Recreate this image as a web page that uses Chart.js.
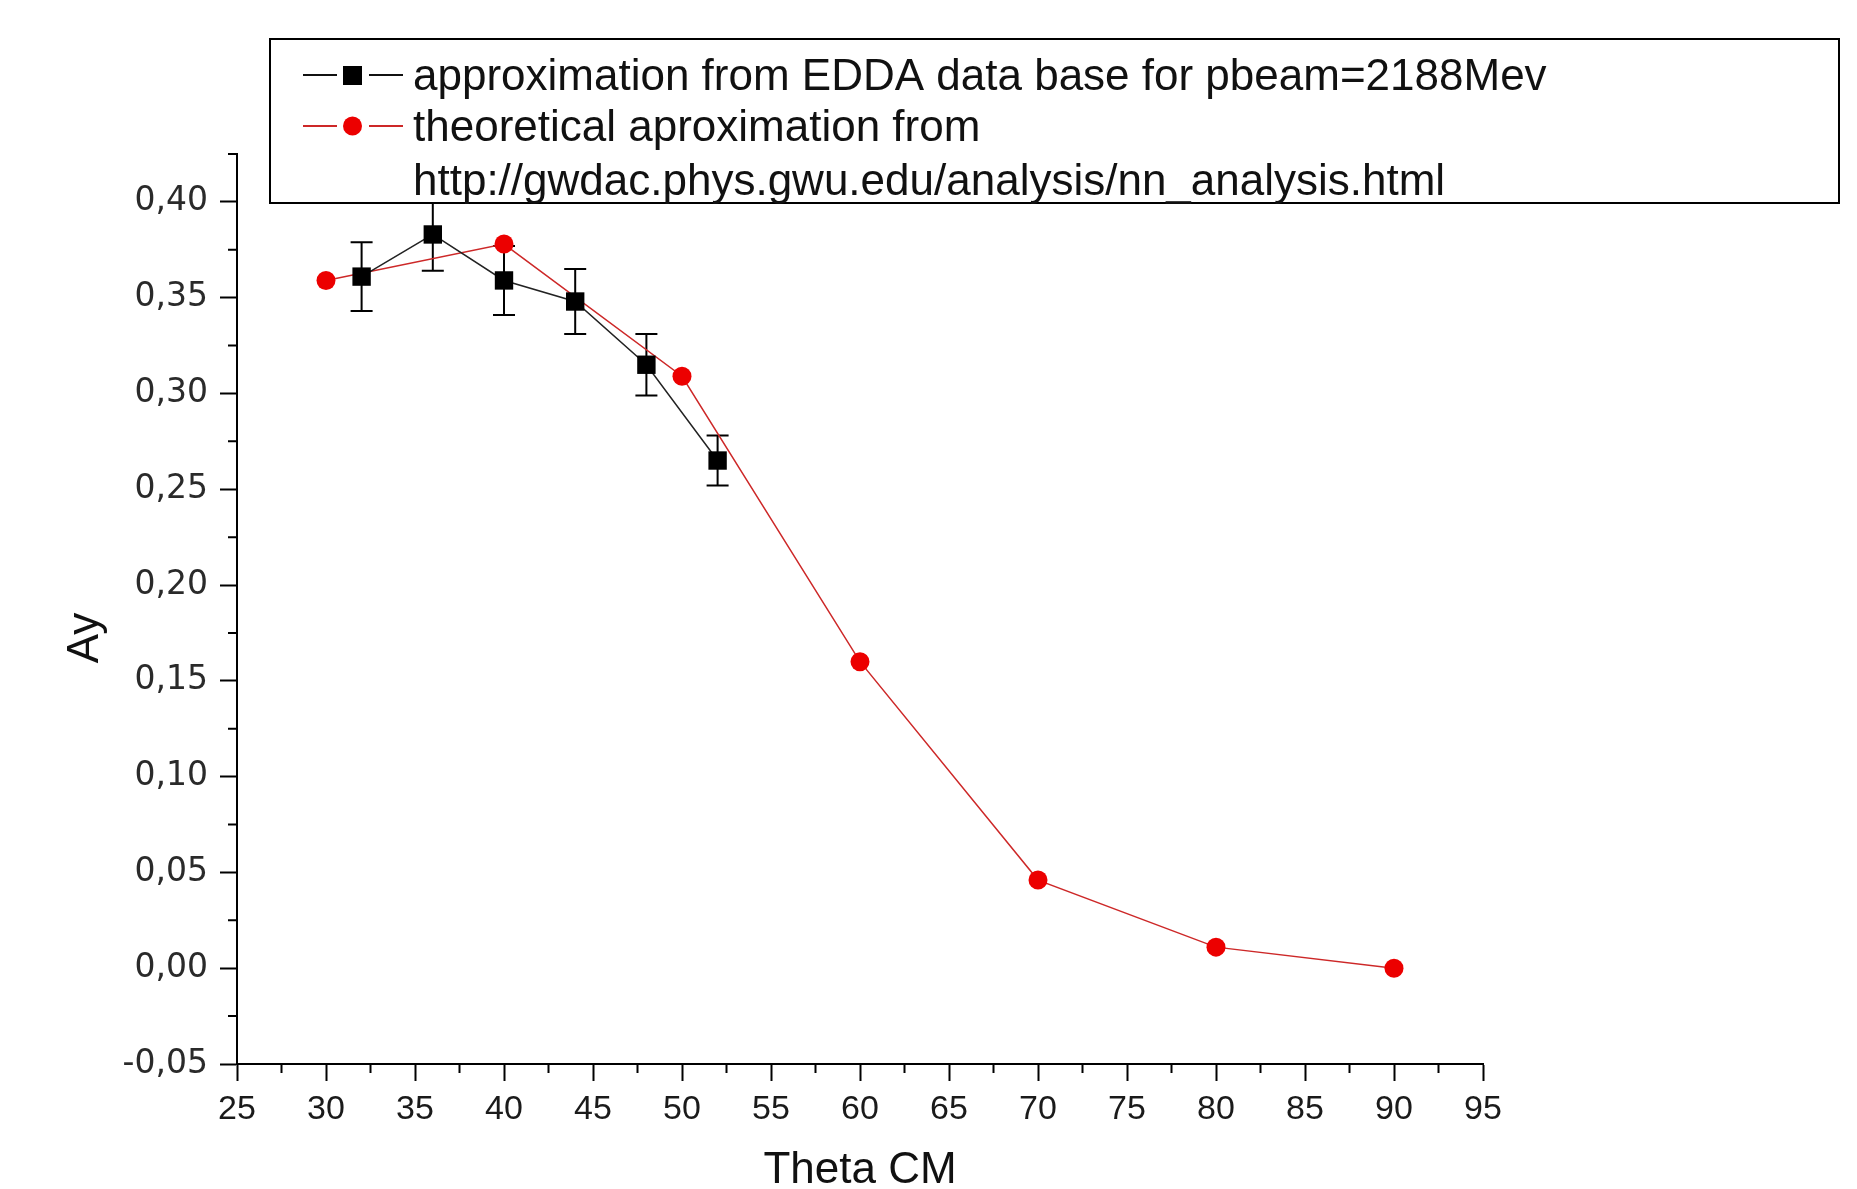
<!DOCTYPE html>
<html>
<head>
<meta charset="utf-8">
<title>Ay vs Theta CM</title>
<script src="https://cdn.jsdelivr.net/npm/chart.js@4/dist/chart.umd.min.js"></script>
<style>
    body { margin: 0; background: #fff; }
    #wrap { width: 1857px; height: 1189px; }
</style>
</head>
<body>
<div id="wrap"><canvas id="myChart" width="1857" height="1189"></canvas></div>
<script>
// EDDA data points (with errors)
const eddaTheta = [32, 36, 40, 44, 48, 52];
const eddaAy = [0.361, 0.383, 0.359, 0.348, 0.315, 0.265];
const eddaErr = [0.018, 0.019, 0.018, 0.017, 0.016, 0.013];

// theoretical curve (SAID)
const theoTheta = [30, 40, 50, 60, 70, 80, 90];
const theoAy = [0.359, 0.378, 0.309, 0.160, 0.046, 0.011, 0.000];

const xTicks = [25, 30, 35, 40, 45, 50, 55, 60, 65, 70, 75, 80, 85, 90, 95];
const yTicks = [-0.05, 0, 0.05, 0.10, 0.15, 0.20, 0.25, 0.30, 0.35, 0.40];
const xMinor = [27.5, 32.5, 37.5, 42.5, 47.5, 52.5, 57.5, 62.5, 67.5, 72.5, 77.5, 82.5, 87.5, 92.5];
const yMinor = [-0.025, 0.025, 0.075, 0.125, 0.175, 0.225, 0.275, 0.325, 0.375, 0.425];

const legendLabels = [
    'approximation from EDDA data base for pbeam=2188Mev',
    'theoretical aproximation from',
    'http://gwdac.phys.gwu.edu/analysis/nn_analysis.html'
];
const xTitle = 'Theta CM';
const yTitle = 'Ay';

const FONT = "'Liberation Sans', Arial, sans-serif";
const WIDE_FONT = "'DejaVu Sans', Verdana, sans-serif";
const RED = 'rgb(236,0,0)';
const RED_LINE = 'rgb(205,40,40)';

const toPoints = (xs, ys) => xs.map((x, i) => ({ x: x, y: ys[i] }));

const extras = {
    id: 'extras',
    beforeDatasetsDraw: (chart) => {
        const ctx = chart.ctx;
        const xs = chart.scales.x;
        const ys = chart.scales.y;
        ctx.save();
        ctx.strokeStyle = '#000';
        ctx.lineWidth = 2;
        eddaTheta.forEach((t, i) => {
            const px = xs.getPixelForValue(t);
            const top = ys.getPixelForValue(eddaAy[i] + eddaErr[i]);
            const bot = ys.getPixelForValue(eddaAy[i] - eddaErr[i]);
            ctx.beginPath();
            ctx.moveTo(px, top);
            ctx.lineTo(px, bot);
            ctx.moveTo(px - 11, top);
            ctx.lineTo(px + 11, top);
            ctx.moveTo(px - 11, bot);
            ctx.lineTo(px + 11, bot);
            ctx.stroke();
        });
        ctx.restore();
    },
    afterDraw: (chart) => {
        const ctx = chart.ctx;
        const xs = chart.scales.x;
        const ys = chart.scales.y;
        const area = chart.chartArea;
        ctx.save();

        // minor ticks
        ctx.strokeStyle = '#000';
        ctx.lineWidth = 2;
        ctx.beginPath();
        xMinor.forEach(v => {
            const px = xs.getPixelForValue(v);
            ctx.moveTo(px, area.bottom);
            ctx.lineTo(px, area.bottom + 9);
        });
        yMinor.forEach(v => {
            const py = ys.getPixelForValue(v);
            ctx.moveTo(area.left, py);
            ctx.lineTo(area.left - 9, py);
        });
        ctx.stroke();

        // y title
        ctx.fillStyle = '#111';
        ctx.font = '44px ' + FONT;
        ctx.textAlign = 'center';
        ctx.textBaseline = 'alphabetic';
        ctx.translate(98, 638);
        ctx.rotate(-Math.PI / 2);
        ctx.fillText(yTitle, 0, 0);
        ctx.setTransform(1, 0, 0, 1, 0, 0);

        // legend box
        ctx.fillStyle = '#fff';
        ctx.fillRect(270, 39, 1569, 164);
        ctx.strokeStyle = '#000';
        ctx.lineWidth = 2;
        ctx.strokeRect(270, 39, 1569, 164);

        const rows = [75, 126];
        const styles = [
            { line: '#111', fill: '#000', shape: 'rect' },
            { line: RED_LINE, fill: RED, shape: 'circle' }
        ];
        styles.forEach((s, i) => {
            const y = rows[i];
            ctx.strokeStyle = s.line;
            ctx.lineWidth = 2;
            ctx.beginPath();
            ctx.moveTo(303, y);
            ctx.lineTo(337, y);
            ctx.moveTo(369, y);
            ctx.lineTo(403, y);
            ctx.stroke();
            ctx.fillStyle = s.fill;
            if (s.shape === 'rect') {
                ctx.fillRect(343, y - 9, 19, 19);
            } else {
                ctx.beginPath();
                ctx.arc(352.5, y, 9.5, 0, Math.PI * 2);
                ctx.fill();
            }
        });

        ctx.fillStyle = '#111';
        ctx.font = '44px ' + FONT;
        ctx.textAlign = 'left';
        ctx.textBaseline = 'alphabetic';
        ctx.fillText(legendLabels[0], 413, 90);
        ctx.fillText(legendLabels[1], 413, 141);
        ctx.fillText(legendLabels[2], 413, 195);
        ctx.restore();
    }
};

const myChart = new Chart(document.getElementById('myChart'), {
    type: 'line',
    data: {
        datasets: [
            {
                label: legendLabels[0],
                data: toPoints(eddaTheta, eddaAy),
                borderColor: '#222',
                borderWidth: 1.5,
                pointStyle: 'rect',
                pointRadius: 13,
                pointBackgroundColor: '#000',
                pointBorderColor: '#000',
                pointBorderWidth: 0,
                tension: 0,
                fill: false,
            },
            {
                label: legendLabels[1] + ' ' + legendLabels[2],
                data: toPoints(theoTheta, theoAy),
                borderColor: RED_LINE,
                borderWidth: 1.5,
                pointStyle: 'circle',
                pointRadius: 9.5,
                pointBackgroundColor: RED,
                pointBorderColor: RED,
                pointBorderWidth: 0,
                tension: 0,
                fill: false,
            },
        ],
    },
    options: {
        responsive: false,
        animation: false,
        devicePixelRatio: 1,
        layout: {
            padding: { left: 0, top: 154, right: 374, bottom: 0 }
        },
        plugins: {
            legend: { display: false },
            tooltip: { enabled: false },
        },
        scales: {
            x: {
                type: 'linear',
                min: 25,
                max: 95,
                afterFit: (scale) => { scale.height = 125; },
                afterBuildTicks: (scale) => { scale.ticks = xTicks.map(v => ({ value: v })); },
                border: { display: true, color: '#000', width: 2 },
                grid: {
                    drawOnChartArea: false,
                    drawTicks: true,
                    tickLength: 17,
                    tickWidth: 2,
                    tickColor: '#000',
                },
                ticks: {
                    color: '#1a1a1a',
                    padding: 8,
                    maxRotation: 0,
                    autoSkip: false,
                    font: { family: FONT, size: 34 },
                },
                title: {
                    display: true,
                    text: xTitle,
                    color: '#111',
                    font: { family: FONT, size: 44, lineHeight: 1 },
                    padding: { top: 0, bottom: -4 },
                },
            },
            y: {
                type: 'linear',
                min: -0.05,
                max: 0.425,
                afterFit: (scale) => { scale.width = 237; },
                afterBuildTicks: (scale) => { scale.ticks = yTicks.map(v => ({ value: v })); },
                border: { display: true, color: '#000', width: 2 },
                grid: {
                    drawOnChartArea: false,
                    drawTicks: true,
                    tickLength: 17,
                    tickWidth: 2,
                    tickColor: '#000',
                },
                ticks: {
                    color: '#2a2a2a',
                    padding: 12,
                    autoSkip: false,
                    font: { family: WIDE_FONT, size: 33 },
                    callback: (v) => v.toFixed(2).replace('.', ','),
                },
            },
        },
    },
    plugins: [extras],
});
</script>
</body>
</html>
